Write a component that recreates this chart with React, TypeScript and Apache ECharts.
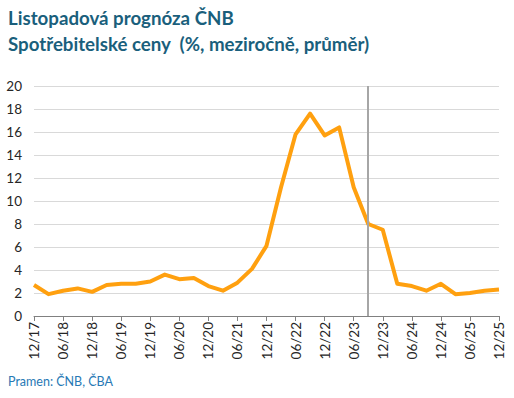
import React, { useEffect, useRef } from "react";
import * as echarts from "echarts";

const categories: string[] = [
  "12/17", "03/18", "06/18", "09/18", "12/18", "03/19", "06/19", "09/19", "12/19",
  "03/20", "06/20", "09/20", "12/20", "03/21", "06/21", "09/21", "12/21",
  "03/22", "06/22", "09/22", "12/22", "03/23", "06/23", "09/23", "12/23",
  "03/24", "06/24", "09/24", "12/24", "03/25", "06/25", "09/25", "12/25",
];
const cpiValues: number[] = [
  2.7, 1.9, 2.2, 2.4, 2.1, 2.7, 2.8, 2.8, 3.0,
  3.6, 3.2, 3.3, 2.6, 2.2, 2.9, 4.1, 6.1,
  11.2, 15.8, 17.6, 15.7, 16.4, 11.2, 8.0, 7.5,
  2.8, 2.6, 2.2, 2.8, 1.9, 2.0, 2.2, 2.3,
];
const forecastStart = "09/23";
const titleLine1 = "Listopadová prognóza ČNB";
const titleLine2 = "Spotřebitelské ceny  (%, meziročně, průměr)";
const sourceText = "Pramen: ČNB, ČBA";

const FONT = "Lato, 'Noto Sans', sans-serif";

export default function App() {
  const ref = useRef<HTMLDivElement>(null);
  useEffect(() => {
    if (!ref.current) return;
    document.body.style.margin = "0";
    const chart = echarts.init(ref.current, undefined, { renderer: "svg" });
    chart.setOption({
      animation: false,
      backgroundColor: "#ffffff",
      textStyle: { fontFamily: FONT },
      grid: { left: 34, right: 15, top: 86, bottom: 82, containLabel: false },
      graphic: [
        {
          type: "text",
          left: 8,
          top: 8,
          style: { text: titleLine1, fontSize: 18.7, fontWeight: "bold", fill: "#1a5f7c", fontFamily: FONT },
        },
        {
          type: "text",
          left: 8,
          top: 34,
          style: { text: titleLine2, fontSize: 18.7, fontWeight: "bold", fill: "#1a5f7c", fontFamily: FONT },
        },
        {
          type: "text",
          left: 8,
          top: 375,
          style: { text: sourceText, fontSize: 12.5, fill: "#2779b5", fontFamily: FONT },
        },
      ],
      xAxis: {
        type: "category",
        data: categories,
        boundaryGap: false,
        axisLine: { lineStyle: { color: "#808080", width: 1 } },
        axisTick: { show: true, interval: 1, length: 5, lineStyle: { color: "#808080" } },
        axisLabel: { interval: 1, rotate: 90, fontSize: 13.5, color: "#262626", margin: 6, fontFamily: FONT },
        splitLine: { show: false },
      },
      yAxis: {
        type: "value",
        min: 0,
        max: 20,
        interval: 2,
        axisLine: { show: false },
        axisTick: { show: false },
        axisLabel: { fontSize: 13.5, color: "#262626", margin: 12, fontFamily: FONT },
        splitLine: { lineStyle: { color: "#d9d9d9", width: 1 } },
      },
      series: [
        {
          type: "line",
          data: cpiValues,
          symbol: "none",
          lineStyle: { color: "#ffa00f", width: 4, join: "round" },
          itemStyle: { color: "#ffa00f" },
          markLine: {
            silent: true,
            symbol: "none",
            label: { show: false },
            lineStyle: { color: "#a6a6a6", width: 2, type: "solid" },
            data: [{ xAxis: forecastStart }],
          },
          z: 3,
        },
      ],
    });
    return () => chart.dispose();
  }, []);
  return <div ref={ref} style={{ width: 514, height: 398 }} />;
}
